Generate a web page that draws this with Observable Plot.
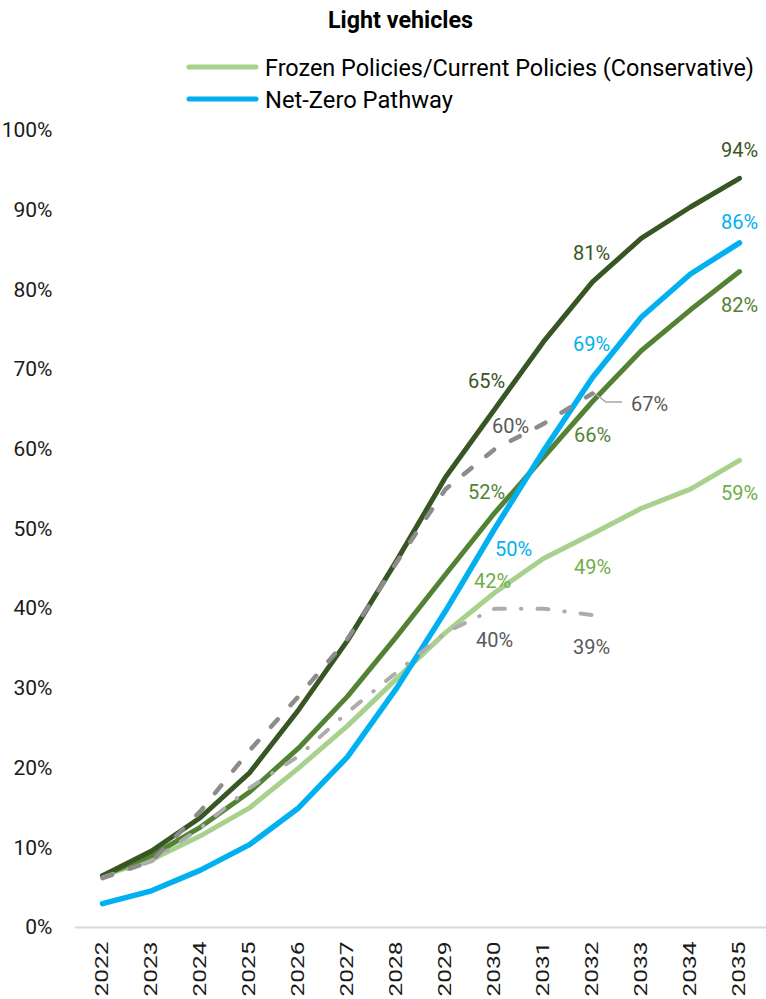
<!DOCTYPE html>
<html>
<head>
<meta charset="utf-8">
<script src="https://cdn.jsdelivr.net/npm/d3@7"></script>
<script src="https://cdn.jsdelivr.net/npm/@observablehq/plot@0.6"></script>
<style>
  html, body { margin: 0; padding: 0; background: #fff; }
  #wrap { width: 766px; height: 999px; position: relative; font-family: Roboto, "Noto Sans", sans-serif; }
  #header { display: block; }
  #chart svg { display: block; }
</style>
</head>
<body>
<div id="wrap">
  <svg id="header" width="766" height="116" font-family="Roboto, sans-serif"></svg>
  <div id="chart"></div>
</div>
<script>
// ---- data ----
const years = [2022, 2023, 2024, 2025, 2026, 2027, 2028, 2029, 2030, 2031, 2032, 2033, 2034, 2035];
const frozenPolicies = [6.5, 8.5, 11.5, 15, 20, 25.3, 31.2, 37, 42, 46.3, 49.4, 52.6, 55, 58.6];
const netZeroPathway = [3, 4.6, 7.2, 10.4, 15, 21.4, 30, 39.7, 50, 59.8, 69, 76.6, 82, 85.9];
const midGreenSeries = [6.5, 9, 12.6, 17, 22.5, 29, 36.5, 44.3, 52, 59, 66, 72.4, 77.5, 82.3];
const darkGreenSeries = [6.5, 9.6, 13.8, 19.4, 27.3, 36, 46, 56.5, 65, 73.5, 81, 86.5, 90.4, 94];
const greyDashedYears = [2022, 2023, 2024, 2025, 2026, 2027, 2028, 2029, 2030, 2031, 2032];
const greyDashedSeries = [6.2, 8.3, 14.6, 22.2, 29, 36.2, 45.8, 55, 60, 63.2, 67];
const greyDashDotSeries = [6.3, 8.3, 12.5, 17.5, 21.5, 27, 32, 37, 40, 40, 39.2];
const yTicks = [0, 10, 20, 30, 40, 50, 60, 70, 80, 90, 100];
const titleText = "Light vehicles";
const legendNames = ["Frozen Policies/Current Policies (Conservative)", "Net-Zero Pathway"];

// ---- styles ----
const C = {
  frozen: "#A9D18E", netZero: "#00B0F0", mid: "#548235", dark: "#375623",
  dashed: "#8C8C8C", dashDot: "#ADADAD"
};

const toRows = (name, ys, vals) => vals.map((v, i) => ({series: name, year: ys[i], value: v}));
const rows = {
  frozen: toRows("frozen", years, frozenPolicies),
  netZero: toRows("netZero", years, netZeroPathway),
  mid: toRows("mid", years, midGreenSeries),
  dark: toRows("dark", years, darkGreenSeries),
  dashed: toRows("dashed", greyDashedYears, greyDashedSeries),
  dashDot: toRows("dashDot", greyDashedYears, greyDashDotSeries)
};
const pick = (s, yr) => rows[s].find(d => d.year === yr);

// data label annotations: which point, with offsets and colour
const annotations = [
  {s: "dark", yr: 2035, dx: 0, dy: -28, fill: "#375623"},
  {s: "dark", yr: 2032, dx: -1, dy: -28, fill: "#375623"},
  {s: "dark", yr: 2030, dx: -8, dy: -28, fill: "#375623"},
  {s: "netZero", yr: 2035, dx: 0, dy: -20, fill: "#00B0F0"},
  {s: "netZero", yr: 2032, dx: -1, dy: -33, fill: "#00B0F0"},
  {s: "netZero", yr: 2030, dx: 19, dy: 21, fill: "#00B0F0"},
  {s: "mid", yr: 2035, dx: 0, dy: 34, fill: "#548235"},
  {s: "mid", yr: 2032, dx: 0, dy: 34, fill: "#548235"},
  {s: "mid", yr: 2030, dx: -8, dy: -20, fill: "#548235"},
  {s: "frozen", yr: 2035, dx: 0, dy: 33, fill: "#70AD47"},
  {s: "frozen", yr: 2032, dx: 0, dy: 34, fill: "#70AD47"},
  {s: "frozen", yr: 2030, dx: -2, dy: -11, fill: "#70AD47"},
  {s: "dashed", yr: 2030, dx: 16, dy: -23, fill: "#595959"},
  {s: "dashed", yr: 2032, dx: 57, dy: 11, fill: "#595959"},
  {s: "dashDot", yr: 2030, dx: 0, dy: 32, fill: "#595959"},
  {s: "dashDot", yr: 2032, dx: -1, dy: 33, fill: "#595959"}
].map(a => {
  const p = pick(a.s, a.yr);
  return {...a, year: p.year, value: p.value, label: Math.round(p.value) + "%"};
});

// ---- header (title + legend) ----
const header = d3.select("#header");
header.append("text").attr("x", 328).attr("y", 28)
  .attr("font-size", 24).attr("font-weight", "bold").attr("fill", "#000")
  .attr("textLength", 145).attr("lengthAdjust", "spacingAndGlyphs").text(titleText);
const legendColors = [C.frozen, C.netZero];
const legendLens = [489, 188];
legendNames.forEach((name, i) => {
  const cy = 67 + i * 32;
  header.append("line").attr("x1", 189).attr("x2", 256).attr("y1", cy).attr("y2", cy)
    .attr("stroke", legendColors[i]).attr("stroke-width", 5).attr("stroke-linecap", "round");
  header.append("text").attr("x", 265).attr("y", cy + 9).attr("font-size", 24).attr("fill", "#000")
    .attr("textLength", legendLens[i]).attr("lengthAdjust", "spacingAndGlyphs").text(name);
});

// ---- chart ----
const leader = (index, scales) => {
  const p = pick("dashed", 2032);
  const x = scales.x(p.year), y = scales.y(p.value);
  return d3.create("svg:path")
    .attr("d", `M${x + 2},${y}L${x + 14},${y + 9}L${x + 30},${y + 9}`)
    .attr("fill", "none").attr("stroke", "#A6A6A6").attr("stroke-width", 1.5)
    .node();
};

const lineOpts = (color, extra = {}) => ({
  x: "year", y: "value", stroke: color, strokeWidth: 5,
  strokeLinecap: "round", strokeLinejoin: "round", ...extra
});

const chart = Plot.plot({
  width: 766,
  height: 883,
  marginTop: 14,
  marginBottom: 72,
  marginLeft: 75,
  marginRight: 0,
  style: {fontFamily: "Roboto, sans-serif", background: "#fff", color: "#000"},
  x: {type: "point", domain: years, padding: 0.5},
  y: {domain: [0, 100]},
  marks: [
    Plot.axisY({ticks: yTicks, tickFormat: d => d + "%", tickSize: 0, tickPadding: 23,
      fontSize: 21, label: null, fill: "#1a1a1a"}),
    Plot.axisX({ticks: years, tickFormat: d => String(d), tickRotate: -90, tickSize: 0,
      tickPadding: 14, fontSize: 18, label: null, fill: "#1a1a1a"}),
    Plot.ruleY([0], {stroke: "#D9D9D9", strokeWidth: 2}),
    Plot.line(rows.frozen, lineOpts(C.frozen)),
    Plot.line(rows.mid, lineOpts(C.mid)),
    Plot.line(rows.dark, lineOpts(C.dark)),
    Plot.line(rows.netZero, lineOpts(C.netZero, {strokeWidth: 5.5})),
    Plot.line(rows.dashDot, lineOpts(C.dashDot, {strokeWidth: 4, strokeDasharray: "11,16,0.5,16"})),
    Plot.line(rows.dashed, lineOpts(C.dashed, {strokeWidth: 4.5, strokeDasharray: "10,19"})),
    leader,
    Plot.text(annotations, {x: "year", y: "value", text: "label", fill: "fill", fontSize: 20})
  ]
});

// apply per-label offsets
const sel = d3.select(chart);
sel.selectAll('g[aria-label="text"] text').each(function(d, i) {
  const a = annotations[i];
  const t = d3.select(this);
  const tr = t.attr("transform") || "";
  t.attr("transform", tr + ` translate(${a.dx},${a.dy})`);
});
sel.selectAll('g[aria-label="x-axis tick label"] text')
  .attr("textLength", 55).attr("lengthAdjust", "spacingAndGlyphs");

document.getElementById("chart").appendChild(chart);
</script>
</body>
</html>
